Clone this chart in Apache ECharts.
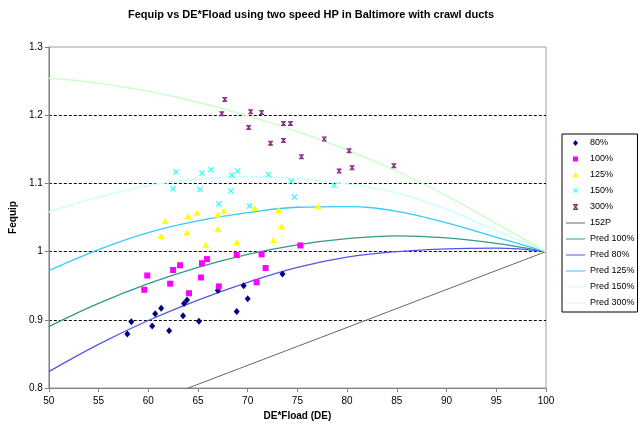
<!DOCTYPE html>
<html>
<head>
<meta charset="utf-8">
<script src="https://cdn.jsdelivr.net/npm/echarts@6/dist/echarts.min.js"></script>
<style>
html,body{margin:0;padding:0;background:#fff;}
#c{width:640px;height:428px;}
</style>
</head>
<body>
<div id="c"></div>
<script>
// ---- data ----
const pts80 = [[57.9,0.879],[58.3,0.897],[60.4,0.891],[60.7,0.909],[61.3,0.917],[62.1,0.884],
  [63.5,0.906],[63.6,0.924],[63.9,0.929],[65.1,0.898],[67.0,0.943],[68.9,0.912],[69.6,0.950],
  [70.0,0.931],[73.5,0.967]];
const pts100 = [[59.9,0.965],[59.6,0.944],[62.5,0.973],[62.2,0.953],[63.2,0.980],[64.1,0.939],
  [65.3,0.962],[65.4,0.983],[65.9,0.989],[67.1,0.949],[68.9,0.995],[70.9,0.955],[71.4,0.996],
  [71.8,0.976],[75.3,1.009]];
const pts125 = [[61.7,1.045],[61.3,1.023],[64.0,1.052],[64.9,1.057],[63.9,1.028],[67.0,1.054],
  [67.6,1.060],[67.0,1.033],[70.7,1.064],[73.1,1.061],[73.4,1.037],[72.6,1.017],[65.8,1.010],
  [68.9,1.014],[77.1,1.067]];
const pts150 = [[62.8,1.117],[62.5,1.092],[65.4,1.115],[66.3,1.120],[65.2,1.091],[68.4,1.112],
  [69.0,1.118],[68.3,1.089],[67.1,1.070],[70.2,1.067],[72.1,1.113],[74.4,1.103],[74.7,1.080],
  [78.7,1.097]];
const pts300 = [[67.7,1.223],[67.4,1.202],[70.3,1.205],[71.4,1.204],[70.1,1.182],[73.6,1.188],
  [74.3,1.188],[72.3,1.159],[73.6,1.163],[75.4,1.139],[77.7,1.165],[80.2,1.148],[79.2,1.118],
  [80.5,1.123],[84.7,1.126]];
const line152x = [50, 100];
const line152y = [0.722, 1.0];
const predX = [50, 55, 60, 65, 70, 75, 80, 85, 90, 95, 100];
const pred100 = [0.890, 0.924, 0.953, 0.977, 0.996, 1.010, 1.019, 1.023, 1.020, 1.012, 1.0];
const pred80  = [0.824, 0.864, 0.899, 0.929, 0.955, 0.977, 0.992, 1.000, 1.004, 1.005, 1.0];
const pred125 = [0.972, 1.003, 1.028, 1.045, 1.057, 1.065, 1.066, 1.059, 1.042, 1.021, 1.0];
const pred150 = [1.058, 1.080, 1.097, 1.106, 1.110, 1.107, 1.099, 1.086, 1.062, 1.031, 1.0];
const pred300 = [1.254, 1.247, 1.235, 1.219, 1.199, 1.176, 1.149, 1.118, 1.082, 1.041, 1.0];
const xTicks = [50, 55, 60, 65, 70, 75, 80, 85, 90, 95, 100];
const yTicks = [0.8, 0.9, 1.0, 1.1, 1.2, 1.3];

const zip = (xs, ys) => xs.map((x, i) => [x, ys[i]]);
const FONT = 'Liberation Sans, Arial, sans-serif';
const X_SYM = 'path://M0,1.5L1.5,0L5,3.5L8.5,0L10,1.5L6.5,5L10,8.5L8.5,10L5,6.5L1.5,10L0,8.5L3.5,5Z';
const STAR_SYM = 'path://M0,0L10,0L10,1.6L0,1.6Z M0,8.4L10,8.4L10,10L0,10Z M0,1.5L1.5,0L5,3.5L8.5,0L10,1.5L6.5,5L10,8.5L8.5,10L5,6.5L1.5,10L0,8.5L3.5,5Z M4.3,0L5.7,0L5.7,10L4.3,10Z';

// legend icons: a 19x6 box (corner points) holding a small marker or a thin line
const BOX = 'M0,0L0,0Z M19,6L19,6Z ';
const LG_DIAMOND = 'path://' + BOX + 'M9.5,0L12,3L9.5,6L7,3Z';
const LG_RECT = 'path://' + BOX + 'M7,0.5L12,0.5L12,5.5L7,5.5Z';
const LG_TRI = 'path://' + BOX + 'M9.5,0L12.5,5.5L6.5,5.5Z';
const LG_X = 'path://' + BOX + 'M7,0.8L7.8,0L9.5,1.7L11.2,0L12,0.8L10.3,2.5L12,4.2L11.2,5L9.5,3.3L7.8,5L7,4.2L8.7,2.5Z';
const LG_STAR = 'path://' + BOX + 'M7,0L12,0L12,0.9L7,0.9Z M7,5.1L12,5.1L12,6L7,6Z M7,0.8L7.8,0L9.5,1.7L11.2,0L12,0.8L10.3,3L12,5.2L11.2,6L9.5,4.3L7.8,6L7,5.2L8.7,3Z';
const LG_LINE = 'path://' + BOX + 'M0,2.4L19,2.4L19,3.6L0,3.6Z';
const LG_LINE_THIN = 'path://' + BOX + 'M0,2.5L19,2.5L19,3.5L0,3.5Z';

function scatter(name, data, symbol, size, color) {
  return { name, type: 'scatter', data, symbol, symbolSize: size, symbolKeepAspect: true,
    itemStyle: { color, opacity: 1 }, emphasis: { disabled: true }, z: 3 };
}
function line(name, data, color, width) {
  return { name, type: 'line', data, symbol: 'none', showSymbol: false, smooth: 0.4,
    lineStyle: { color, width }, itemStyle: { color }, emphasis: { disabled: true }, z: 2 };
}

const chart = echarts.init(document.getElementById('c'), null, { renderer: 'canvas' });
chart.setOption({
  animation: false,
  backgroundColor: '#ffffff',
  textStyle: { fontFamily: FONT },
  title: {
    text: 'Fequip vs DE*Fload using two speed HP in Baltimore with crawl ducts',
    left: 306, textAlign: 'center', top: 4,
    textStyle: { fontFamily: FONT, fontSize: 11, fontWeight: 'bold', color: '#000' }
  },
  grid: { left: 37, right: 94, top: 47, bottom: 40, show: true, borderColor: '#a0a0a0', borderWidth: 1, backgroundColor: '#fff' },
  xAxis: {
    type: 'value', min: xTicks[0], max: xTicks[xTicks.length - 1], interval: 5,
    name: 'DE*Fload (DE)', nameLocation: 'middle', nameGap: 22,
    nameTextStyle: { fontFamily: FONT, fontSize: 10, fontWeight: 'bold', color: '#000' },
    axisLine: { show: true, lineStyle: { color: '#808080', width: 1 } },
    axisTick: { show: true, inside: false, length: 4, lineStyle: { color: '#808080' } },
    axisLabel: { margin: 8, fontFamily: FONT, fontSize: 10, color: '#000' },
    splitLine: { show: false }
  },
  yAxis: {
    type: 'value', min: yTicks[0], max: yTicks[yTicks.length - 1], interval: 0.1,
    name: 'Fequip', nameLocation: 'middle', nameGap: 29,
    nameTextStyle: { fontFamily: FONT, fontSize: 10, fontWeight: 'bold', color: '#000' },
    axisLine: { show: true, lineStyle: { color: '#808080', width: 1 } },
    axisTick: { show: true, inside: false, length: 4, lineStyle: { color: '#808080' } },
    axisLabel: { margin: 6, fontFamily: FONT, fontSize: 10, color: '#000',
      formatter: v => String(+v.toFixed(1)) },
    splitLine: { show: true, lineStyle: { type: [3, 2], width: 1,
      color: ['rgba(0,0,0,0)', '#000', '#000', '#000', '#000', 'rgba(0,0,0,0)'] } }
  },
  legend: {
    orient: 'vertical', left: 562, top: 134,
    padding: [1, 3, 1, 4], itemGap: 0, itemWidth: 19, itemHeight: 6,
    borderColor: '#000', borderWidth: 1, backgroundColor: '#fff',
    textStyle: { fontFamily: FONT, fontSize: 9, color: '#000', lineHeight: 16 },
    selectedMode: false,
    data: [
      { name: '80%', icon: LG_DIAMOND },
      { name: '100%', icon: LG_RECT },
      { name: '125%', icon: LG_TRI },
      { name: '150%', icon: LG_X },
      { name: '300%', icon: LG_STAR },
      { name: '152P', icon: LG_LINE_THIN },
      { name: 'Pred 100%', icon: LG_LINE },
      { name: 'Pred 80%', icon: LG_LINE },
      { name: 'Pred 125%', icon: LG_LINE },
      { name: 'Pred 150%', icon: LG_LINE },
      { name: 'Pred 300%', icon: LG_LINE }
    ]
  },
  series: [
    scatter('80%', pts80, 'diamond', [6, 7], '#000080'),
    scatter('100%', pts100, 'rect', 6, '#ff00ff'),
    scatter('125%', pts125, 'triangle', [7, 6], '#ffff00'),
    scatter('150%', pts150, X_SYM, 6, '#33ffff'),
    scatter('300%', pts300, STAR_SYM, 5, '#8a2a8a'),
    line('152P', zip(line152x, line152y), '#666666', 1),
    line('Pred 100%', zip(predX, pred100), '#339988', 1.3),
    line('Pred 80%', zip(predX, pred80), '#5555ee', 1.3),
    line('Pred 125%', zip(predX, pred125), '#33ccff', 1.3),
    line('Pred 150%', zip(predX, pred150), '#ccffff', 1.5),
    line('Pred 300%', zip(predX, pred300), '#ccffcc', 1.5)
  ]
});
</script>
</body>
</html>
